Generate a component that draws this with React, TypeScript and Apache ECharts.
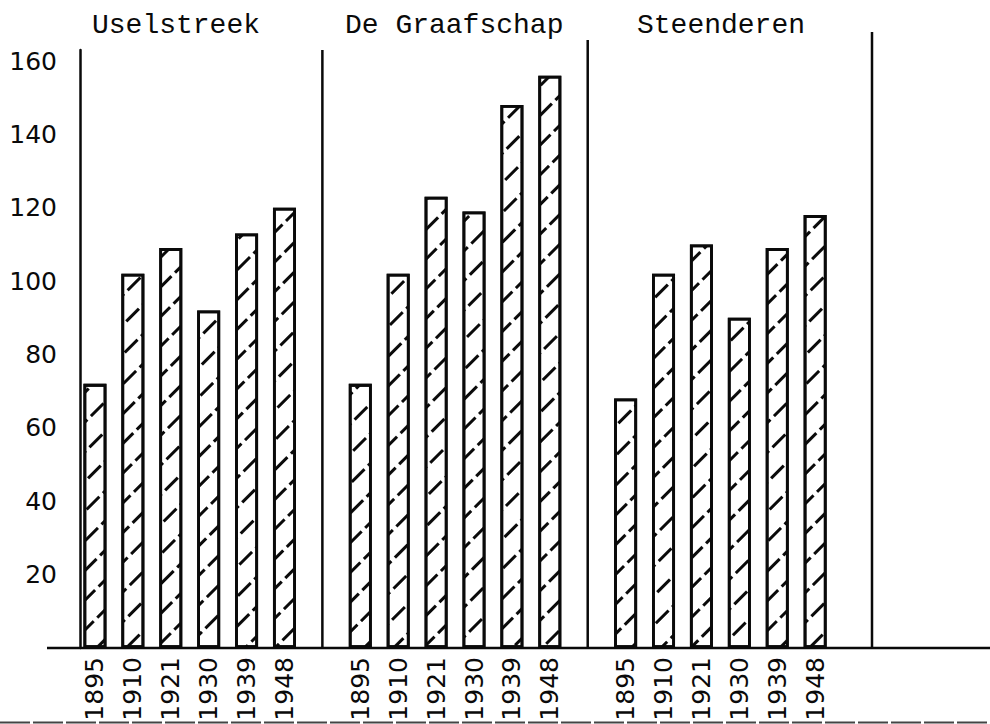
import React, { useEffect, useRef } from "react";
import * as echarts from "echarts";

// ---- data ----
const years = ["1895", "1910", "1921", "1930", "1939", "1948"];
const regions = ["Uselstreek", "De Graafschap", "Steenderen"];
const uselstreek = [72, 102, 109, 92, 113, 120];
const graafschap = [72, 102, 123, 119, 148, 156];
const steenderen = [68, 102, 110, 90, 109, 118];
const yTickValues = [20, 40, 60, 80, 100, 120, 140, 160];

const regionValues = [uselstreek, graafschap, steenderen];

// categories: 6 years per region followed by one empty slot
const categories: string[] = [];
const barData: (number | string)[] = [];
regions.forEach((_, r) => {
  years.forEach((y) => {
    categories.push(`${r}|${y}`);
  });
  regionValues[r].forEach((v) => barData.push(v));
  categories.push(`gap|${r}`);
  barData.push("-");
});

// separator lines sit on the empty slots: [slot, top value, edge]
const separators = [
  [6, 163, 0],
  [13, 165.7, 0],
  [20, 167.9, 1],
];

export default function App() {
  const ref = useRef<HTMLDivElement>(null);
  useEffect(() => {
    if (!ref.current) return;
    const chart = echarts.init(ref.current, null, { renderer: "svg" });
    const ink = "#0a0a0a";
    const titleLefts = [92, 345, 637];
    chart.setOption({
      animation: false,
      backgroundColor: "#fff",
      title: regions.map((t, i) => ({
        text: t,
        left: titleLefts[i],
        top: 11,
        padding: 0,
        textStyle: {
          fontFamily: "Liberation Mono",
          fontSize: 28,
          fontWeight: "normal",
          color: ink,
        },
      })),
      grid: {
        left: 76,
        right: 118,
        top: 50,
        bottom: 76,
        containLabel: false,
        outerBoundsMode: "none",
      },
      xAxis: {
        type: "category",
        data: categories,
        axisLine: { show: false },
        axisTick: { show: false },
        splitLine: { show: false },
        axisLabel: {
          interval: 0,
          rotate: 90,
          margin: 9,
          color: ink,
          fontFamily: "DejaVu Sans",
          fontSize: 25,
          hideOverlap: false,
          formatter: (v: string) => (v.startsWith("gap") ? "" : v.split("|")[1]),
        },
      },
      yAxis: {
        type: "value",
        min: 0,
        max: 163,
        interval: 20,
        offset: -4,
        axisLine: { show: true, lineStyle: { color: ink, width: 2.5 } },
        axisTick: { show: false },
        splitLine: { show: false },
        axisLabel: {
          margin: 23,
          color: ink,
          fontFamily: "DejaVu Sans",
          fontSize: 25,
          formatter: (v: number) => (yTickValues.includes(v) ? String(v) : ""),
        },
      },
      series: [
        {
          type: "bar",
          data: barData,
          barWidth: 23,
          itemStyle: {
            color: "#fff",
            borderColor: ink,
            borderWidth: 2.8,
            decal: {
              symbol: "rect",
              symbolSize: 1,
              dashArrayX: [[18, 5]],
              dashArrayY: [2.5, 17.5],
              rotation: -Math.PI / 4,
              color: ink,
              backgroundColor: "#fff",
            },
          },
        },
        {
          type: "custom",
          silent: true,
          clip: false,
          data: separators,
          renderItem: (params: any, api: any) => {
            const slot = api.value(0);
            const p0 = api.coord([slot, 0]);
            const p1 = api.coord([slot, api.value(1)]);
            const half = api.size([1, 0])[0] / 2;
            const x = p0[0] + api.value(2) * half;
            return {
              type: "line",
              shape: { x1: x, y1: p0[1], x2: x, y2: p1[1] },
              style: { stroke: ink, lineWidth: 2.5 },
            };
          },
        },
        {
          type: "custom",
          silent: true,
          clip: false,
          data: [[0, 0]],
          renderItem: (params: any, api: any) => {
            const p = api.coord([0, 0]);
            const half = api.size([1, 0])[0] / 2;
            return {
              type: "line",
              shape: { x1: p[0] - half - 29, y1: p[1], x2: api.getWidth(), y2: p[1] },
              style: { stroke: ink, lineWidth: 2.5 },
            };
          },
        },
      ],
      graphic: [
        {
          type: "line",
          shape: { x1: 0, y1: 722.5, x2: 990, y2: 722.5 },
          style: { stroke: "#444", lineWidth: 2, lineDash: [30, 3] },
          silent: true,
        },
      ],
    });
    return () => chart.dispose();
  }, []);
  return (
    <div
      ref={ref}
      style={{ position: "fixed", left: 0, top: 0, width: 990, height: 724, background: "#fff" }}
    />
  );
}
